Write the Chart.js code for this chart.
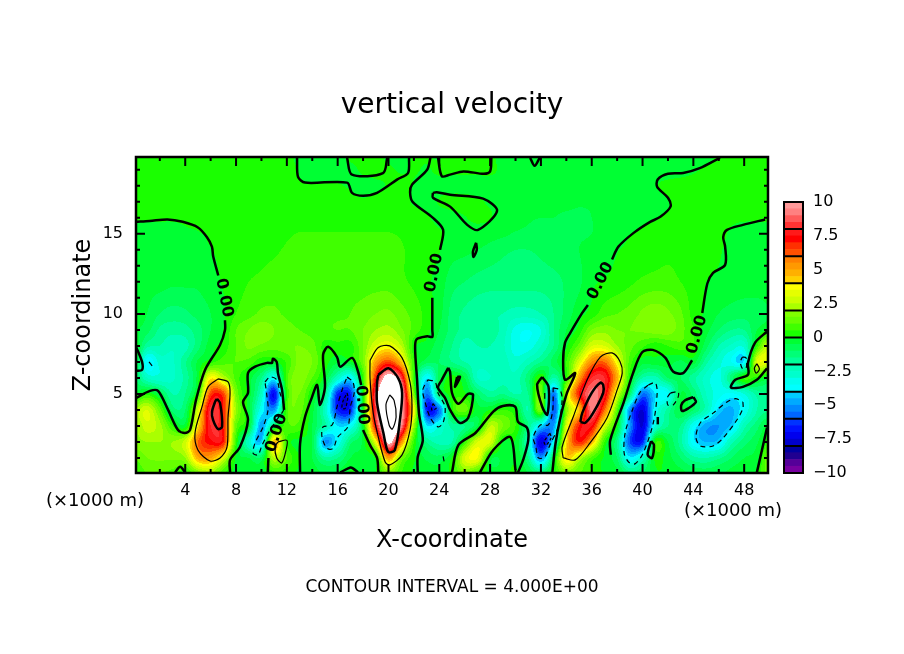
<!DOCTYPE html>
<html>
<head>
<meta charset="UTF-8">
<title>vertical velocity</title>
<script src="https://cdn.jsdelivr.net/npm/chart.js"></script>
<style>
  body { margin: 0; background: white; }
  #wrap { position: relative; width: 904px; height: 654px; overflow: hidden; }
  #mainChart { position: absolute; left: 0; top: 0; }
  #barChart { position: absolute; left: 770px; top: 190px; }
</style>
</head>
<body>
<div id="wrap">
  <canvas id="mainChart" width="904" height="654"></canvas>
  <canvas id="barChart" width="134" height="300"></canvas>
</div>
<script>
// velocity, one row per height, x = 0..50 (km)
const heights = [0,1,2,3,4,5,6,7,8,9,10,12,14,15,16,17,18,19,20];
const w0 = [.6,1,1,.8,.2,1.5,2,.5,-.2,-.3, -.3,.3,.2,-.1,-.2,-.5,-.4,.1,-.1,0, 1.5,.5,-.1,-.2,-.2,.2,1.5,.5,-.2,-.2, .1,-.5,-1,.1,1.5,1,.5,-.1,-.3,-1.2, -1,-.1,-.1,-.3,-.6,-.7,-.6,-.3,-.1,.1, 1.5];
const w1 = [1,1.5,1.6,1.6,2,4.8,5,3,-.1,-.5, -.8,2.5,1,0,-.5,-1.8,-1.5,-.5,-.3,.2, 5,1.5,.1,-.6,-.8,.1,3,3.5,-.2,-.4, -.1,-1.5,-5,-.5,4.2,2.5,.8,-.1,-1,-3.8, -2.5,.1,-.3,-1,-1.8,-2,-1.6,-1,-.5,-.2, 1.5];
const w2 = [1.8,2,2,2,2.8,6,7.3,7,.5,-2.5, -4.2,4.5,.5,-.2,-.5,-5,-3.5,-1.2,-.3,3.5, 10.5,5.5,.5,-1.5,-2.2,-2,.5,3,3,-.1, -.1,-2.5,-7.5,-3.5,4,7,4.8,.5,-1.5,-6, -6.5,.3,-.5,-1.8,-3.8,-4.5,-4.2,-2.2,-1.2,-.6, .6];
const w3 = [1.8,2.8,2.2,.5,-.2,4,8,7,1.2,-.2, -4.8,-1,.8,.8,-.5,-2,-4,-3.5,-.2,7.5, 12.5,9.5,2,-3.8,-3,-1.8,-1.5,-.5,2.5,1.5, .5,-1.5,-4,-5,3,7,7.5,3,0,-5, -7.5,-3,-1.5,-1.5,-3.5,-4.8,-5,-4.3,-2.2,-1.2, -.2];
const w4 = [2,3,1.2,-1.2,-1,3,8.2,7,2,-.3, -3.5,-5,.8,1.2,-.3,-2.5,-6.5,-6.5,0,8.5, 13.5,10.2,3.6,-6.5,-5.5,.2,1.2,-.3,0,.5, 0,-2,1.5,-6,1.5,4.5,9.2,6,1,-5, -7.5,-3.5,-1.8,-.5,-1,-2.3,-4.2,-4.6,-3.5,-2, -1.5];
const w5 = [-.3,.3,-.6,-2,-1.5,.5,6.5,6.5,1.5,-.2, -2.5,-7,.5,1.5,0,-1.5,-6.5,-6.5,0,8.8, 13.5,10.5,1.5,-5.5,-1,.2,.1,-1,-1.8,-1.5, -2,-1.5,1.5,-5.5,2.5,7,9.3,7.8,3,-1, -5.5,-4,-3.5,-.5,-1.2,-2.5,-3.3,-3.6,-3,-1.8, -1.5];
const w6 = [-.8,-2.5,-2.8,-2.6,-1.8,-.2,3.8,2.5,.8,-.2, -1.5,-3.5,.8,1.8,1,-.3,-2.5,-3.8,.5,7, 11,8.5,.5,-3.8,-.8,.2,-.5,-2.5,-2.5,-2.2, -2.3,-1.2,.5,-2,.5,5,8,8,4.8,.2, -2,-2.2,-1,-1,-1.8,-2.7,-3.2,-1.2,.5,.3, -.5];
const w7 = [.1,-3.8,-2.8,-2.6,-1.6,-.4,.3,.8,1,.8, .1,-.1,.6,1.7,1.5,.3,-.4,-.1,1.5,5, 6.5,4.5,.5,-.8,-1,-1.5,-2,-2.2,-2.2,-2.2, -2.8,-2.2,-1.5,-.8,.5,3,5.5,6,3.5,.8, -.3,-.2,-.3,-.6,-.3,-1.8,-2.8,-3.5,-3.8,3, 3];
const w8 = [0,-1.8,-2,-2.4,-2.2,-1.2,-.2,.2,1,1.6, 1.4,1.2,1.4,1.5,1.2,.3,.3,.3,1.5,3, 3.5,2.5,.2,-.2,-.8,-1.5,-2.2,-2,-2,-2.4, -3.3,-3.3,-2.5,-1.5,-.1,1.2,3,3,2,1.2, .6,.2,.5,.8,.5,-.8,-2,-2.6,-2.8,.4, 3];
const w9 = [-.4,-.8,-1.6,-1.8,-1.7,-1.2,-.5,0,1,1.5, 1.8,1.5,1.2,1,.8,.9,1,1,1.5,2, 2.2,1.6,.8,.2,-.5,-1.2,-1.7,-1.7,-1.7,-2.2, -3.2,-3.5,-3,-1.5,-.5,.2,1.5,1.8,1.5,1.5, 1.6,1.8,1.8,1.2,.5,-.3,-1,-1.5,-1.5,-.5, 0];
const w10 = [-.2,-.5,-1,-1.2,-1.1,-.8,-.5,-.1,.5,.8, 1.1,1.1,.9,.8,.7,.8,.9,1,1.2,1.5, 1.6,1.2,.8,.3,-.3,-1.2,-1.6,-1.8,-1.9,-2, -2.2,-2.2,-2,-1.5,-.8,-.2,.2,.8,1,1.2, 1.6,1.8,1.6,1.1,.3,-.1,-.5,-.7,-.8,-.7, -.5];
const w12 = [-.2,-.3,-.3,-.4,-.4,-.4,-.2,.05,.3,.5, .6,.7,.7,.7,.7,.7,.7,.8,.8,.8, .8,.6,.4,.1,-.2,-.8,-1,-1.2,-1.3,-1.3, -1.3,-1.3,-1.3,-1.2,-.9,-.6,-.1,.05,.2,.4, .6,.7,.7,.5,.3,0,-.1,-.2,-.25,-.25, -.25];
const w14 = [-.1,-.1,-.1,-.1,-.15,-.1,-.02,.1,.2,.3, .4,.45,.55,.65,.65,.65,.65,.65,.65,.65, .65,.55,.35,.2,.02,-.3,-.4,-.5,-.7,-.9, -1,-1,-.9,-.7,-.6,-.5,-.3,-.15,-.02,.1, .2,.3,.4,.4,.35,.25,.05,-.1,-.1,-.1, -.1];
const w15 = [-.1,-.1,-.1,-.1,-.05,-.02,.05,.15,.2,.3, .3,.4,.45,.52,.52,.52,.52,.52,.52,.52, .52,.45,.3,.2,.05,-.15,-.2,-.25,-.3,-.4, -.55,-.6,-.6,-.55,-.55,-.55,-.5,-.3,-.15,-.02, .1,.15,.2,.2,.2,.2,.1,-.05,-.1,-.1, -.1];
const w16 = [.02,.03,.03,.03,.05,.1,.15,.2,.2,.2, .25,.25,.3,.3,.3,.3,.3,.3,.3,.3, .3,.25,.2,.05,-.1,-.1,-.02,.1,.02,-.2, -.3,-.45,-.5,-.5,-.55,-.55,-.5,-.4,-.3,-.2, -.1,-.03,.05,.1,.15,.15,.1,.05,.03,.03, .03];
const w17 = [.1,.1,.1,.1,.1,.1,.1,.1,.1,.1, .1,.1,.1,.1,.1,.1,.1,.1,.05,.1, .15,.15,-.05,-.1,.02,.1,.1,.05,-.05,-.15, -.2,-.3,-.35,-.4,-.4,-.45,-.45,-.45,-.4,-.3, -.2,-.1,-.02,.05,.1,.1,.1,.1,.1,.1, .1];
const w18 = [.1,.1,.1,.1,.1,.1,.1,.1,.1,.1, .1,.1,.1,.03,.02,.02,.02,-.03,-.1,-.05, .02,.1,-.02,-.1,-.1,-.1,-.1,-.1,-.1,-.1, -.2,-.2,-.2,-.2,-.2,-.2,-.2,-.2,-.2,-.2, -.2,-.02,.05,.1,.1,.1,.1,.1,.1,.1, .1];
const w19 = [.1,.1,.1,.1,.1,.1,.1,.1,.1,.1, .1,.1,.1,-.02,-.1,-.1,-.1,-.08,.05,.1, .05,-.03,.02,-.02,.05,.05,.05,.05,.05,-.05, -.1,-.1,-.1,-.1,-.1,-.1,-.1,-.1,-.1,-.1, -.1,-.1,-.1,-.1,-.03,.03,.1,.1,.1,.1, .1];
const w20 = [.1,.1,.1,.1,.1,.1,.1,.1,.1,.1, .1,.1,.1,-.1,-.1,-.1,-.1,.1,.1,.1, -.1,-.1,.02,.02,-.03,.05,.05,.05,.05,-.1, -.1,-.02,-.1,-.1,-.1,-.1,-.1,-.1,-.1,-.1, -.1,-.1,-.1,-.1,-.1,-.1,.02,.1,.1,.1, .1];
const field = [w0,w1,w2,w3,w4,w5,w6,w7,w8,w9,w10,w12,w14,w15,w16,w17,w18,w19,w20];

// contour lines in km, [x, z]
const contourZero = [
  [[.13,4.75],[1.23,5.19],[1.86,5.19],[2.65,4],[3.43,2.75],[3.98,2.56],[4.38,2.75],[4.85,4.63],[5.56,6.5],[6.74,8.06],[7.13,9],[7.13,9.6]],
  [[6.6,12.4],[6.2,13.6],[6.1,14.2],[5.7,14.8],[5,15.4],[3.8,15.75],[2.6,15.9],[1.2,15.8],[.13,15.75]],
  [[7.53,.1],[7.53,.88],[8.31,1.69],[8.94,3.38],[8.55,4.5],[8.94,5.06],[8.94,6.3],[9.5,6.7],[10.44,6.94],[10.83,6.94],[10.9,7.2],[11.2,7],[11.3,6.3],[11.62,5.25],[11.78,4]],
  [[10.55,1],[10.5,.1]],
  [[3.2,.1],[3.6,.45],[4,.1]],
  [[13.04,.1],[13.04,1.9],[13.43,3.56],[13.98,4.8],[14.38,5.56],[14.6,4.3],[15,5.44],[14.85,7.44],[15.25,7.94],[15.95,7.3],[16.2,6.7],[17.14,7.25],[17.6,6.4],[17.85,5.56]],
  [[18,2.75],[18.55,1.8],[19.1,1],[19.2,.1]],
  [[16.2,.1],[17,.4],[17.2,.35],[17.6,.1]],
  [[22.3,.1],[22.3,1.06],[22.7,2.1],[22.4,3.8],[22.25,5.9],[22.1,7.75],[22.2,8.4],[23.05,8.6],[23.45,8.56],[23.45,9],[23.45,11]],
  [[24.06,14],[24.3,15.25],[23.5,16],[21.9,17],[21.7,17.6],[21.85,18.06],[23.04,19],[23.3,19.75]],
  [[24.7,6.63],[24.2,5.88],[23.9,5.38],[24.45,4.75],[24.85,4],[25.6,3.19],[26.27,3.5],[26.66,4.94],[26.27,5],[25.5,4.38],[25,5.06],[24.85,6.38],[24.7,6.63]],
  [[25.4,6.06],[25.63,6.06],[25.24,5.44],[25.4,6.06]],
  [[25,.1],[25.5,1.8],[26.84,2.56],[28.25,3.9],[29,4.25],[29.97,4.2],[30.2,3.25],[30.9,2.9],[31,2.1],[30.6,.88],[30.2,.1]],
  [[27.2,.1],[28.25,1.5],[29.6,2.3],[30,.25]],
  [[32.1,6.06],[31.7,5.56],[32.1,4.2],[32.5,3.7],[32.6,5.44],[32.1,6.06]],
  [[32.9,.1],[33.15,1.9],[33.5,3.4],[34.05,5.06],[34.7,6.3],[33.9,5.88],[33.75,7.1],[33.9,8.2],[34.3,8.8],[35.25,10.06],[35.7,10.56]],
  [[37.6,13.4],[38.1,14.2],[39.3,15.06],[40.6,15.75],[41.4,16.06],[42.2,16.7],[42,17.25],[41.15,17.94],[41.2,18.4],[42,18.75],[43.2,18.8],[44.5,19.1],[46.1,19.75]],
  [[37.5,1.2],[37.45,2.1],[38.5,4.44],[39.25,6.3],[39.97,7.6],[40.8,7.75],[41.8,7.25],[42.4,6.4],[43.2,6.3],[43.9,7.1]],
  [[44.7,10.06],[45.1,11.9],[45.55,12.56],[46.5,13.06],[46.5,14.2],[46.35,14.8],[46.65,15.25],[47.9,15.56],[49.65,15.9]],
  [[40.67,2.06],[40.9,1.8],[40.75,1],[40.4,1.2],[40.67,2.06]],
  [[44,4.8],[44.2,4.5],[43.6,4.1],[43.1,3.94],[43.05,4.3],[43.35,4.6],[44,4.8]],
  [[49.8,8.9],[48.86,8.2],[48.3,6.94],[48.3,6.2],[47.3,5.88],[46.96,5.4],[47.9,5.44],[49,5.88],[49.8,6.6]],
  [[49,.1],[49.8,2.9]],
  [[.13,7.94],[.6,7],[.6,6.5],[.13,6.44]],
  [[12.8,19.75],[12.88,18.56],[13.43,18.2],[16.74,18.2],[17.13,17.56],[18,17.38],[19.1,17.56],[20.7,18.4],[21.54,18.8],[21.62,19.75]],
  [[16.74,19.75],[17.13,18.7],[19.57,18.8],[19.9,19.75]],
  [[23.9,19.75],[24.2,18.6],[24.85,18.7],[25.9,18.9],[27.5,18.75],[28,18.9],[28.1,19.75]],
  [[23.5,17.56],[23.8,17.6],[24.85,17.44],[27.45,17.2],[28.55,16.44],[27.05,15.25],[26.2,15.56],[24.85,16.7],[23.5,17.25],[23.5,17.56]],
  [[31.15,19.75],[31.5,19.25],[31.9,19.75]],
  [[26.9,14.44],[26.95,14],[26.7,13.56],[26.65,13.9],[26.9,14.44]],
  [[41.2,3.56],[41.2,3.1]]
];
const contourPlus4 = [
  [[6.58,5.94],[7.37,5.75],[7.53,5.06],[7.37,3.56],[7.29,1.69],[6.74,1],[5.95,.81],[5,1.5],[4.77,2.56],[5.32,4.19],[5.8,5.44],[6.58,5.94]],
  [[11.3,2],[12,2.1],[11.94,1.5],[11.6,.69],[11.2,1],[11.07,1.7],[11.3,2]],
  [[18.55,7.1],[19.2,7.9],[20.1,8],[21.07,7.25],[21.7,5.7],[21.85,4.2],[21.7,2.75],[21.07,1.19],[20.1,.56],[19.74,.75],[19.2,2.3],[18.8,3.8],[18.55,5.9],[18.55,7.1]],
  [[33.75,1],[33.67,1.69],[34.54,3.56],[35.64,5.88],[36.67,7.3],[37.6,7.56],[38.24,7],[38.4,6.3],[38,5.25],[37.2,3.5],[35.87,1.94],[34.7,.88],[33.75,1]],
  [[49,6.88],[49.2,6.56],[48.95,6.3],[48.8,6.6],[49,6.88]],
  [[32.3,5.06],[32.3,4.7]]
];
const contourPlus8 = [
  [[6.5,4.69],[6.74,4.44],[6.9,2.94],[6.58,2.81],[6.19,3.38],[6.11,3.88],[6.35,4.5],[6.5,4.69]],
  [[19.2,6.19],[20,6.6],[20.75,6],[21.07,5.06],[20.9,3.38],[20.5,1.5],[19.97,1.38],[19.6,2.56],[19.1,4.44],[19.1,5.7],[19.2,6.19]],
  [[35.1,3.25],[35.25,3.8],[36,5.06],[36.67,5.7],[36.9,5.56],[36.9,5.06],[36.1,3.8],[35.5,3.2],[35.1,3.25]]
];
const contourPlus12 = [
  [[20.1,4.94],[20.44,4.6],[20.6,3.56],[20.3,2.8],[20.05,3.06],[19.8,4.3],[20.1,4.94]]
];
const contourMinus4 = [
  [[10.28,5.75],[10.68,6.06],[11.2,5.88],[11.46,5.06],[11.78,4.1],[11.2,3.38],[10.68,2.75],[10.05,1.8],[9.73,1.19],[9.34,1.3],[9.5,1.94],[10.13,2.94],[10.52,4],[10.44,4.8],[10.28,5.75]],
  [[16.74,6.06],[17.2,5.75],[17.3,5.06],[17,4.2],[16.8,2.94],[16,2.3],[15.64,1.6],[15.16,1.6],[14.77,2.3],[14.85,2.94],[15.56,3.06],[15.95,4.2],[16.35,5.25],[16.74,6.06]],
  [[23.1,5.88],[23.67,5.75],[23.9,5.06],[24.45,4.2],[24.3,3.2],[23.9,2.94],[23.3,3.5],[22.9,4.44],[22.7,5.25],[23.1,5.88]],
  [[24.3,1.1],[24.4,.7]],
  [[32.96,5.38],[33.5,5.25],[33.67,4.6],[33.36,2.94],[32.7,1.8],[32.3,1.06],[31.8,1],[31.6,1.7],[31.4,2.3],[31.95,3.06],[32.57,3.06],[32.9,3.8],[32.96,4.6],[32.96,5.38]],
  [[40.45,5.56],[41,5.7],[41.15,5.06],[40.85,3.2],[40.05,1.3],[39.4,.63],[38.9,.75],[38.55,1.3],[38.63,2.56],[39.2,4],[39.8,5.1],[40.45,5.56]],
  [[42.2,5.06],[42.8,5.13],[42.8,4.8],[42.4,4.3],[42,4.3],[41.95,4.75],[42.2,5.06]],
  [[47.9,4.5],[47.9,4.1],[47.45,3.4],[46.35,2.25],[45.55,1.75],[44.55,1.75],[44.2,2.3],[44.55,3.2],[45.55,3.8],[46.65,4.5],[47.3,4.7],[47.9,4.5]],
  [[47.85,7.3],[48.15,7.25],[48.15,6.6],[47.85,6.6],[47.7,7],[47.85,7.3]],
  [[1.15,7],[1.4,6.75]]
];
const contourMinus8 = [
  [[16.74,5.06],[16.8,4.8],[16.6,4.1],[16.35,4.1],[16.4,4.5],[16.74,5.06]],
  [[23.5,4.4],[23.75,4.1],[23.4,4],[23.5,4.4]],
  [[32.7,2.56],[32.8,2.25],[32.4,1.8],[32.25,2],[32.7,2.56]]
];

// "0.00" labels sitting in the gaps of the zero contour: x, z, angle in degrees
const zeroLabelX = [7.05, 23.6, 36.7, 44.3, 11.2, 17.9];
const zeroLabelZ = [11, 12.56, 12.06, 8.7, 2.56, 4.3];
const zeroLabelAngle = [79, -78, -63, -74, -72, 86];

const xTicks = [4,8,12,16,20,24,28,32,36,40,44,48];
const xMinorTicks = [2,6,10,14,18,22,26,30,34,38,42,46];
const zTicks = [5,10,15];
const zMinorTicks = [1,2,3,4,6,7,8,9,11,12,13,14,16,17,18,19];

// colour bar, one colour per 0.5 step from -10 up to 10
const barColors = [
  '#7700a0','#550099','#200090','#0000a0',
  '#0000cc','#0000ee','#0011ff','#0033ff',
  '#0066ff','#0088ff','#00aaff','#00ccff',
  '#00ffff','#00ffee','#00ffcc','#00ffbb',
  '#00ff99','#00ff77','#00ff55','#00ff33',
  '#1aff00','#40ff00','#66ff00','#80ff00',
  '#aaff00','#ccff00','#e5ff00','#ffff00',
  '#ffd000','#ffb000','#ff9900','#ff8000',
  '#ff5000','#ff3000','#ff0000','#ff1a1a',
  '#ff3333','#ff5a5a','#ff8080','#ff9999'
];
const barTicks = [-10,-7.5,-5,-2.5,0,2.5,5,7.5,10];
const barLines = [-10,-8,-6,-4,-2,0,2,4,6,8,10];

function hexToRgb(h) {
  return [parseInt(h.slice(1,3),16), parseInt(h.slice(3,5),16), parseInt(h.slice(5,7),16)];
}
const barRgb = barColors.map(hexToRgb);

// smooth shading between the read values, only used for the colour of a pixel
function spline(a, b, c, d, t) {
  return 0.5 * (2*b + (c-a)*t + (2*a-5*b+4*c-d)*t*t + (3*b-a-3*c+d)*t*t*t);
}
function valueAt(x, z) {
  let r = 0;
  while (r < heights.length - 2 && z > heights[r+1]) r++;
  const tz = (z - heights[r]) / (heights[r+1] - heights[r]);
  const c = Math.min(49, Math.floor(x));
  const tx = x - c;
  const rowAt = i => {
    const row = field[Math.max(0, Math.min(field.length-1, i))];
    return spline(row[Math.max(0,c-1)], row[c], row[c+1], row[Math.min(50,c+2)], tx);
  };
  return spline(rowAt(r-1), rowAt(r), rowAt(r+1), rowAt(r+2), tz);
}

const fieldPlugin = {
  id: 'field',
  beforeDatasetsDraw(chart) {
    const area = chart.chartArea, xs = chart.scales.x, ys = chart.scales.y;
    const w = Math.round(area.right - area.left), h = Math.round(area.bottom - area.top);
    const off = document.createElement('canvas');
    off.width = w; off.height = h;
    const octx = off.getContext('2d');
    const img = octx.createImageData(w, h);
    for (let j = 0; j < h; j++) {
      const z = ys.getValueForPixel(area.top + j + 0.5);
      for (let i = 0; i < w; i++) {
        const v = valueAt(xs.getValueForPixel(area.left + i + 0.5), z);
        let rgb = [255,255,255];
        if (v < 10) rgb = barRgb[Math.max(0, Math.floor((v + 10) * 2))];
        const p = (j * w + i) * 4;
        img.data[p] = rgb[0]; img.data[p+1] = rgb[1]; img.data[p+2] = rgb[2]; img.data[p+3] = 255;
      }
    }
    octx.putImageData(img, 0, 0);
    chart.ctx.drawImage(off, area.left, area.top);
  }
};

const framePlugin = {
  id: 'frame',
  afterDatasetsDraw(chart) {
    const ctx = chart.ctx, a = chart.chartArea, xs = chart.scales.x, ys = chart.scales.y;
    ctx.save();
    ctx.strokeStyle = 'black';
    ctx.fillStyle = 'black';
    ctx.lineWidth = 2;
    const tickX = (v, len) => {
      const p = xs.getPixelForValue(v);
      ctx.moveTo(p, a.bottom); ctx.lineTo(p, a.bottom - len);
      ctx.moveTo(p, a.top); ctx.lineTo(p, a.top + len);
    };
    const tickZ = (v, len) => {
      const p = ys.getPixelForValue(v);
      ctx.moveTo(a.left, p); ctx.lineTo(a.left + len, p);
      ctx.moveTo(a.right, p); ctx.lineTo(a.right - len, p);
    };
    ctx.beginPath();
    xTicks.forEach(v => tickX(v, 9));
    xMinorTicks.forEach(v => tickX(v, 4));
    zTicks.forEach(v => tickZ(v, 9));
    zMinorTicks.forEach(v => tickZ(v, 4));
    ctx.stroke();
    ctx.lineWidth = 2.5;
    ctx.strokeRect(a.left, a.top, a.right - a.left, a.bottom - a.top);

    ctx.font = 'bold 16px "DejaVu Sans"';
    ctx.textAlign = 'center';
    ctx.textBaseline = 'middle';
    zeroLabelX.forEach((x, i) => {
      ctx.save();
      ctx.translate(xs.getPixelForValue(x), ys.getPixelForValue(zeroLabelZ[i]));
      ctx.rotate(zeroLabelAngle[i] * Math.PI / 180);
      ctx.fillText('0.00', 0, 0);
      ctx.restore();
    });

    ctx.font = '18px "DejaVu Sans"';
    ctx.fillText('(×1000 m)', 95, 501);
    ctx.fillText('(×1000 m)', 733, 511);
    ctx.font = '17px "DejaVu Sans"';
    ctx.fillText('CONTOUR INTERVAL = 4.000E+00', 452, 588);
    ctx.restore();
  }
};

function toDatasets(lines, width, dash) {
  return lines.map(pts => ({
    data: pts.map(p => ({ x: p[0], y: p[1] })),
    showLine: true,
    borderColor: 'black',
    borderWidth: width,
    borderDash: dash,
    pointRadius: 0,
    tension: 0.3
  }));
}

new Chart(document.getElementById('mainChart'), {
  type: 'scatter',
  data: {
    datasets: [].concat(
      toDatasets(contourZero, 2.5, []),
      toDatasets(contourPlus4, 1.2, []),
      toDatasets(contourPlus8, 2.5, []),
      toDatasets(contourPlus12, 1.2, []),
      toDatasets(contourMinus4, 1.2, [5, 4]),
      toDatasets(contourMinus8, 1.2, [3, 2])
    )
  },
  plugins: [fieldPlugin, framePlugin],
  options: {
    responsive: false,
    animation: false,
    devicePixelRatio: 1,
    layout: { padding: 0 },
    plugins: {
      legend: { display: false },
      tooltip: { enabled: false },
      title: {
        display: true,
        text: 'vertical velocity',
        color: 'black',
        font: { family: 'DejaVu Sans', size: 28, weight: 'normal', lineHeight: 1.2 },
        padding: { top: 89.2, bottom: 34.2 }
      }
    },
    scales: {
      x: {
        type: 'linear',
        min: 0.125,
        max: 49.875,
        afterBuildTicks: s => { s.ticks = xTicks.map(v => ({ value: v })); },
        afterFit: s => { s.height = 181; },
        grid: { display: false },
        border: { display: false },
        ticks: { color: 'black', padding: 0, maxRotation: 0, autoSkip: false, font: { family: 'DejaVu Sans', size: 16 } },
        title: {
          display: true,
          text: 'X-coordinate',
          color: 'black',
          font: { family: 'DejaVu Sans', size: 24, lineHeight: 1.2 },
          padding: { top: 0, bottom: 98.6 }
        }
      },
      y: {
        type: 'linear',
        min: 0.06,
        max: 19.8,
        afterBuildTicks: s => { s.ticks = zTicks.map(v => ({ value: v })); },
        afterFit: s => { s.width = 136; },
        grid: { display: false },
        border: { display: false },
        ticks: { color: 'black', padding: 5, font: { family: 'DejaVu Sans', size: 16 } },
        title: {
          display: true,
          text: 'Z-coordinate',
          color: 'black',
          font: { family: 'DejaVu Sans', size: 24, lineHeight: 1.2 },
          padding: { top: 69.6, bottom: 0 }
        }
      },
      y2: {
        type: 'linear',
        position: 'right',
        afterFit: s => { s.width = 136; },
        grid: { display: false },
        border: { display: false },
        ticks: { display: false }
      }
    }
  }
});

const barFramePlugin = {
  id: 'barFrame',
  afterDatasetsDraw(chart) {
    const ctx = chart.ctx, a = chart.chartArea, ys = chart.scales.y;
    ctx.save();
    ctx.strokeStyle = 'black';
    ctx.lineWidth = 2;
    ctx.beginPath();
    barLines.forEach(v => {
      const p = ys.getPixelForValue(v);
      ctx.moveTo(a.left, p); ctx.lineTo(a.right, p);
    });
    ctx.stroke();
    ctx.strokeRect(a.left, a.top, a.right - a.left, a.bottom - a.top);
    ctx.restore();
  }
};

new Chart(document.getElementById('barChart'), {
  type: 'bar',
  data: {
    labels: ['w'],
    datasets: barColors.map((c, i) => ({
      data: [[-10 + i * 0.5, -10 + (i + 1) * 0.5]],
      backgroundColor: c,
      grouped: false,
      barPercentage: 1,
      categoryPercentage: 1
    }))
  },
  plugins: [barFramePlugin],
  options: {
    responsive: false,
    animation: false,
    devicePixelRatio: 1,
    layout: { padding: { left: 14, top: 12, bottom: 17, right: 0 }, autoPadding: false },
    plugins: { legend: { display: false }, tooltip: { enabled: false } },
    scales: {
      x: { display: false },
      y: {
        position: 'right',
        min: -10,
        max: 10,
        afterBuildTicks: s => { s.ticks = barTicks.map(v => ({ value: v })); },
        afterFit: s => { s.width = 101; },
        grid: { display: false },
        border: { display: false },
        ticks: {
          color: 'black',
          padding: 2,
          autoSkip: false,
          font: { family: 'DejaVu Sans', size: 16 },
          callback: v => v < 0 ? '−' + Math.abs(v) : String(v)
        }
      }
    }
  }
});
</script>
</body>
</html>
